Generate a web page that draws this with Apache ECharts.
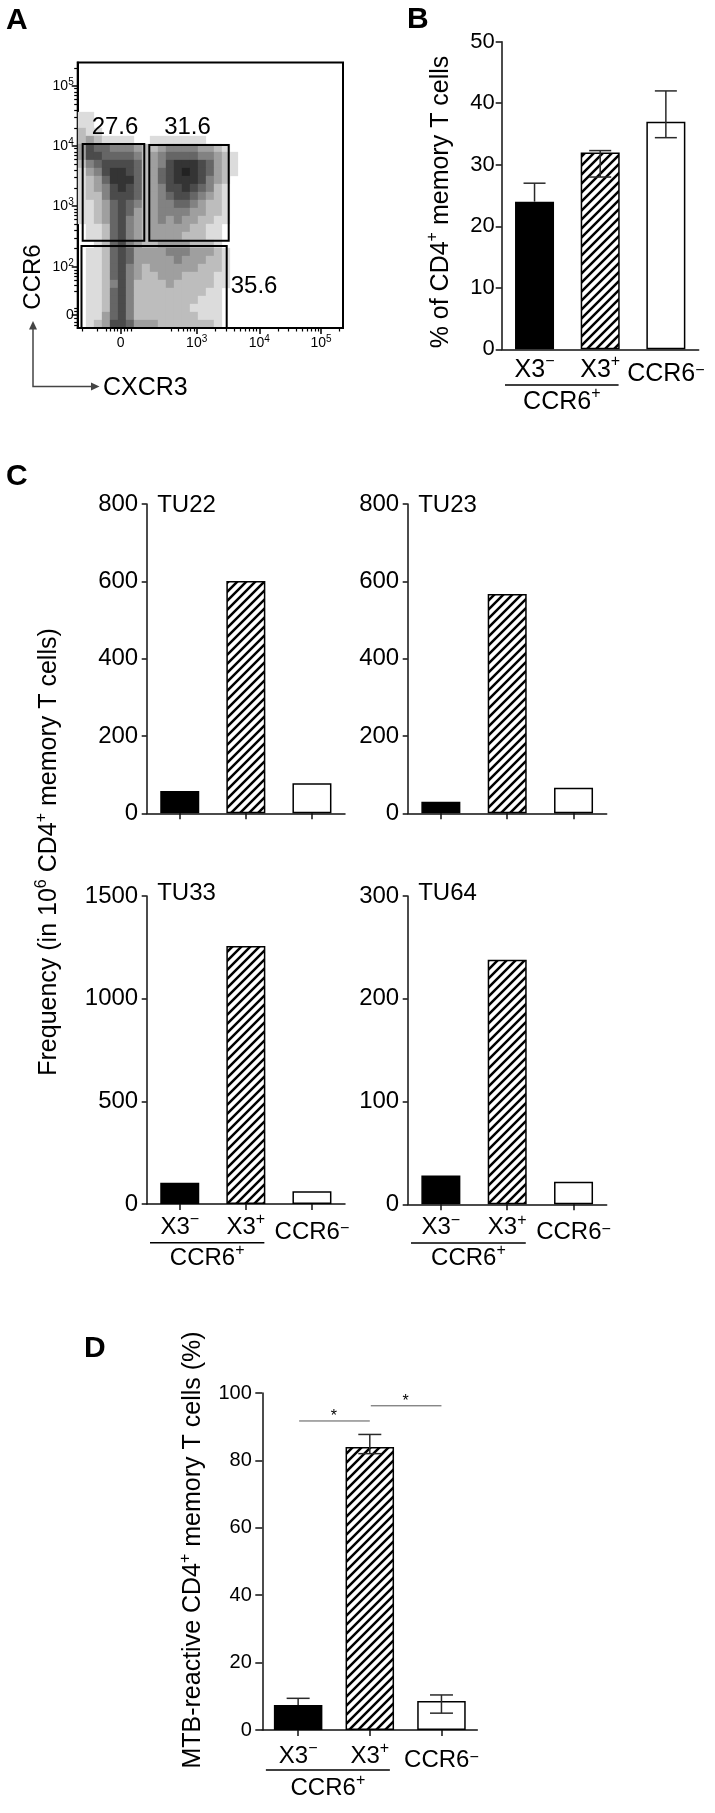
<!DOCTYPE html>
<html><head><meta charset="utf-8">
<script src="https://cdn.jsdelivr.net/npm/echarts@6/dist/echarts.min.js"></script>
<style>html,body{margin:0;padding:0;background:#fff;overflow:hidden}#c{width:715px;height:1813px}</style>
</head><body><div id="c"></div>
<script>
// ================= DATA =================
const categories = ['X3−', 'X3+', 'CCR6−'];
const categoryBase = ['X3', 'X3', 'CCR6'];
const categorySup = ['−', '+', '−'];
const groupBase = 'CCR6', groupSup = '+';

// Panel A – flow cytometry (axes in display channels 0–1000)
const flowXTickValues = [162, 448.5, 684.5, 917];
const flowXTickLabels = [['0', ''], ['10', '3'], ['10', '4'], ['10', '5']];
const flowYTickValues = [49, 229.8, 459.5, 685.5, 911.5];
const flowYTickLabels = [['0', ''], ['10', '2'], ['10', '3'], ['10', '4'], ['10', '5']];
// event density (0–9), rows top→bottom, columns left→right
const flowDensityRows = [
  "110000000000000000000",
  "110000000000000000000",
  "211000000000000000000",
  "232111100111111100000",
  "365544432234444332100",
  "366555542345555443210",
  "245666652346777653210",
  "134677652356787653210",
  "123577752356777643200",
  "123467652346676542100",
  "122466652345665432100",
  "112356542344554322100",
  "112356532344443322100",
  "112356432343433221100",
  "011256432333332211000",
  "011256432333322211000",
  "001256432233332221000",
  "011256533334443332100",
  "011256533333433322100",
  "011256432333333222100",
  "011256432233322221100",
  "011246422223222221100",
  "011256422222222211000",
  "011256422222222111000",
  "011256422222221111000",
  "011356422222222111000",
  "012366533322222221000"
];
const gateRects = [[18.8, 328.8, 251, 693], [269.9, 328.8, 569.2, 689.3], [14.3, 0, 561.6, 308.9]];
const gatePercents = ['27.6', '31.6', '35.6'];

// Panel B
const bMeans = [24, 32, 37];
const bErrLow = [24, 28, 34.4];
const bErrHigh = [27, 32.3, 42];

// Panel C
const cDonors = ['TU22', 'TU23', 'TU33', 'TU64'];
const tu22 = [58, 601, 78];
const tu23 = [30, 567, 66];
const tu33 = [104, 1257, 62];
const tu64 = [28, 238, 22];
const cAxisMax = [800, 800, 1500, 300];
const cAxisStep = [200, 200, 500, 100];

// Panel D
const dMeans = [7.4, 84, 8.6];
const dErrLow = [7.4, 82, 5];
const dErrHigh = [9.4, 87.7, 10.4];
const sigPairs = [[0, 1], [1, 2]];
const sigLevels = [91.7, 96.2];
const sigMarks = ['*', '*'];

// ================= LAYOUT / STYLE =================
const FONT = 'Liberation Sans, Arial, Helvetica, sans-serif';
const AX = '#111';
const G = {
  A: {left: 77.7, top: 62.5, width: 265.3, height: 265.5},
  B: {left: 501.7, top: 41.7, width: 197, height: 307.6},
  C: [{left: 146.7, top: 504, width: 198.3, height: 309.3},
      {left: 407.7, top: 504, width: 199, height: 309.3},
      {left: 146.7, top: 896, width: 198.3, height: 308},
      {left: 407.7, top: 896, width: 199, height: 308.3}],
  D: {left: 262.3, top: 1393, width: 215, height: 337}
};
const gateLabelAt = [[140.6, 755], [413.9, 755], [576.7, 155.6]];
const gateLabelAlign = ['center', 'center', 'left'];
const DENS = {x0: 16.2, y0: 798.5, dx: 30.15, dy: 30.13};
const densityColors = ['#ffffff', '#dcdcdc', '#bdbdbd', '#9f9f9f', '#828282', '#666666', '#4b4b4b', '#343434', '#222222', '#121212'];

function gridOf(r, extra) {
  return Object.assign({left: r.left, top: r.top, width: r.width, height: r.height,
    containLabel: false, outerBoundsMode: 'none'}, extra || {});
}

function makeHatch() {
  const s = 9, c = document.createElement('canvas');
  c.width = s; c.height = s;
  const g = c.getContext('2d');
  g.fillStyle = '#fff'; g.fillRect(0, 0, s, s);
  g.strokeStyle = '#000'; g.lineWidth = 2.5;
  g.beginPath();
  g.moveTo(-1, s + 1); g.lineTo(s + 1, -1);
  g.moveTo(-2, 2); g.lineTo(2, -2);
  g.moveTo(s - 2, s + 2); g.lineTo(s + 2, s - 2);
  g.stroke();
  return c;
}
const hatch = {image: makeHatch(), repeat: 'repeat'};
function barStyle(i) {
  const base = {borderColor: '#000', borderWidth: 1.5};
  if (i === 0) return Object.assign({color: '#000'}, base);
  if (i === 1) return Object.assign({color: hatch}, base);
  return Object.assign({color: '#fff'}, base);
}

function catRich(fs, sfs) {
  const lh = Math.round(fs * 1.3);
  return {
    b: {fontSize: fs, fontFamily: FONT, color: '#000', lineHeight: lh},
    s: {fontSize: sfs, fontFamily: FONT, color: '#000', lineHeight: sfs, verticalAlign: 'top'},
    bl: {fontSize: fs, fontFamily: FONT, color: '#000', lineHeight: lh, padding: [9, 0, 0, 0]},
    sl: {fontSize: sfs, fontFamily: FONT, color: '#000', lineHeight: sfs, verticalAlign: 'top', padding: [9, 0, 0, 0]}
  };
}
function catFormatter(v, i) {
  return i === 2 ? '{bl|' + categoryBase[i] + '}{sl|' + categorySup[i] + '}'
                 : '{b|' + categoryBase[i] + '}{s|' + categorySup[i] + '}';
}
function catXAxis(grid, o) {
  return {type: 'category', gridIndex: grid, data: categories, boundaryGap: true,
    axisLine: {show: true, onZero: false, lineStyle: {color: AX, width: 1.5}},
    axisTick: {show: o.ticks, alignWithLabel: true, length: 6, lineStyle: {color: AX, width: 1.5}},
    axisLabel: {show: o.labels, interval: 0, margin: o.margin, formatter: catFormatter, rich: catRich(o.fs, o.sfs)},
    splitLine: {show: false}, splitArea: {show: false}};
}
function valYAxis(grid, max, step, o) {
  return {type: 'value', gridIndex: grid, min: 0, max: max, interval: step,
    axisLine: {show: true, lineStyle: {color: AX, width: 1.5}},
    axisTick: {show: true, length: o.tick, lineStyle: {color: AX, width: 1.5}},
    axisLabel: {show: true, margin: o.margin, fontSize: o.fs, fontFamily: FONT, color: '#000',
      formatter: v => String(v)},
    splitLine: {show: false}};
}
function flowFormatter(vals, labs) {
  return function (v) {
    const k = vals.findIndex(t => Math.abs(t - v) < 0.5);
    if (k < 0) return '';
    return labs[k][1] ? '{n|' + labs[k][0] + '}{s|' + labs[k][1] + '}' : '{n|' + labs[k][0] + '}';
  };
}
const flowRich = {
  n: {fontSize: 14, fontFamily: FONT, color: '#000', lineHeight: 18},
  s: {fontSize: 10, fontFamily: FONT, color: '#000', lineHeight: 10, verticalAlign: 'top'}
};
function logMinor(anchors, firstKs) {
  const out = [];
  for (let n = 0; n < anchors.length - 1; n++) {
    const ks = n === 0 ? firstKs : [2, 3, 4, 5, 6, 7, 8, 9];
    for (const k of ks) out.push(anchors[n] + Math.log10(k) * (anchors[n + 1] - anchors[n]));
  }
  return out.filter(v => v > 0 && v < 1000);
}
const xMinor = logMinor([212, 448.5, 684.5, 917, 1149], [4, 5, 6, 7, 8, 9])
  .concat([-143, -90, -53, -40, -25, -12, 12, 25, 38].map(d => flowXTickValues[0] + d));
const yMinor = logMinor([0, 229.8, 459.5, 685.5, 911.5, 1137.5], [4, 5, 6, 7, 8, 9])
  .concat([-40, -27, -13, 13, 27].map(d => flowYTickValues[0] + d));

// density data
const densityData = [];
flowDensityRows.forEach((row, j) => {
  for (let i = 0; i < row.length; i++) {
    const d = +row[i];
    if (d > 0) densityData.push([DENS.x0 + i * DENS.dx, DENS.y0 - j * DENS.dy, d]);
  }
});

function errSeries(ax, means, low, high, cap) {
  return {type: 'custom', xAxisIndex: ax, yAxisIndex: ax, z: 5, silent: true,
    data: means.map((m, i) => [i, low[i], high[i], m]),
    renderItem: function (params, api) {
      const i = api.value(0);
      const pl = api.coord([i, api.value(1)]), ph = api.coord([i, api.value(2)]);
      const st = {stroke: '#2a2a2a', lineWidth: 1.5};
      const hw = cap / 2;
      const ch = [
        {type: 'line', shape: {x1: ph[0], y1: ph[1], x2: pl[0], y2: pl[1]}, style: st},
        {type: 'line', shape: {x1: ph[0] - hw, y1: ph[1], x2: ph[0] + hw, y2: ph[1]}, style: st}
      ];
      if (api.value(1) < api.value(3) - 1e-6)
        ch.push({type: 'line', shape: {x1: pl[0] - hw, y1: pl[1], x2: pl[0] + hw, y2: pl[1]}, style: st});
      return {type: 'group', children: ch};
    }};
}
function barSeries(ax, vals, bw) {
  return {type: 'bar', xAxisIndex: ax, yAxisIndex: ax, barWidth: bw, silent: true,
    data: vals.map((v, i) => ({value: v, itemStyle: barStyle(i)}))};
}

// ================= OPTION =================
const grids = [gridOf(G.A, {show: true, borderColor: '#000', borderWidth: 2}), gridOf(G.A), gridOf(G.B)]
  .concat(G.C.map(r => gridOf(r))).concat([gridOf(G.D)]);

const xAxes = [
  {type: 'value', gridIndex: 0, min: 0, max: 1000,
    axisLine: {show: true, onZero: false, lineStyle: {color: '#000', width: 2}},
    axisTick: {show: true, customValues: flowXTickValues, length: 6, lineStyle: {color: '#000', width: 1.5}},
    axisLabel: {show: true, customValues: flowXTickValues, margin: 6, formatter: flowFormatter(flowXTickValues, flowXTickLabels), rich: flowRich},
    splitLine: {show: false}},
  {type: 'value', gridIndex: 1, min: 0, max: 1000,
    axisLine: {show: false}, axisLabel: {show: false}, splitLine: {show: false},
    axisTick: {show: true, customValues: xMinor, length: 3.5, lineStyle: {color: '#000', width: 1.2}}},
  catXAxis(2, {ticks: false, labels: true, margin: 4, fs: 25, sfs: 16}),
  catXAxis(3, {ticks: true, labels: false, margin: 8, fs: 24, sfs: 16}),
  catXAxis(4, {ticks: true, labels: false, margin: 8, fs: 24, sfs: 16}),
  catXAxis(5, {ticks: true, labels: true, margin: 8, fs: 24, sfs: 16}),
  catXAxis(6, {ticks: true, labels: true, margin: 8, fs: 24, sfs: 16}),
  catXAxis(7, {ticks: true, labels: true, margin: 10.5, fs: 24, sfs: 16})
];
const yAxes = [
  {type: 'value', gridIndex: 0, min: 0, max: 1000,
    axisLine: {show: true, onZero: false, lineStyle: {color: '#000', width: 2}},
    axisTick: {show: true, customValues: flowYTickValues, length: 6, lineStyle: {color: '#000', width: 1.5}},
    axisLabel: {show: true, customValues: flowYTickValues, margin: 4, formatter: flowFormatter(flowYTickValues, flowYTickLabels), rich: flowRich},
    splitLine: {show: false}},
  {type: 'value', gridIndex: 1, min: 0, max: 1000,
    axisLine: {show: false}, axisLabel: {show: false}, splitLine: {show: false},
    axisTick: {show: true, customValues: yMinor, length: 3.5, lineStyle: {color: '#000', width: 1.2}}},
  valYAxis(2, 50, 10, {tick: 6, margin: 7, fs: 22}),
  valYAxis(3, cAxisMax[0], cAxisStep[0], {tick: 5, margin: 8.5, fs: 24}),
  valYAxis(4, cAxisMax[1], cAxisStep[1], {tick: 5, margin: 8.5, fs: 24}),
  valYAxis(5, cAxisMax[2], cAxisStep[2], {tick: 5, margin: 8.5, fs: 24}),
  valYAxis(6, cAxisMax[3], cAxisStep[3], {tick: 5, margin: 8.5, fs: 24}),
  valYAxis(7, 100, 20, {tick: 7, margin: 10.5, fs: 20})
];

const series = [
  {type: 'scatter', xAxisIndex: 0, yAxisIndex: 0, symbol: 'rect', symbolSize: [8.3, 8.3], z: 1, silent: true,
    itemStyle: {opacity: 1}, data: densityData},
  {type: 'custom', xAxisIndex: 0, yAxisIndex: 0, z: 3, silent: true, data: gateRects,
    renderItem: function (params, api) {
      const a = api.coord([api.value(0), api.value(3)]), b = api.coord([api.value(2), api.value(1)]);
      return {type: 'rect', shape: {x: a[0], y: a[1], width: b[0] - a[0], height: b[1] - a[1]},
        style: {fill: 'none', stroke: '#000', lineWidth: 2}};
    }},
  {type: 'custom', xAxisIndex: 0, yAxisIndex: 0, z: 4, silent: true,
    data: gateLabelAt.map((p, i) => [p[0], p[1], i]),
    renderItem: function (params, api) {
      const p = api.coord([api.value(0), api.value(1)]), i = api.value(2);
      return {type: 'text', x: p[0], y: p[1],
        style: {text: gatePercents[i], font: '24px ' + FONT, fill: '#000', align: gateLabelAlign[i], verticalAlign: 'middle'}};
    }},
  barSeries(2, bMeans, 39),
  errSeries(2, bMeans, bErrLow, bErrHigh, 22),
  barSeries(3, tu22, 39),
  barSeries(4, tu23, 39),
  barSeries(5, tu33, 39),
  barSeries(6, tu64, 39),
  barSeries(7, dMeans, 48.5),
  errSeries(7, dMeans, dErrLow, dErrHigh, 23),
  {type: 'custom', xAxisIndex: 7, yAxisIndex: 7, z: 6, silent: true,
    data: sigPairs.map((p, i) => [p[0], p[1], sigLevels[i], i]),
    renderItem: function (params, api) {
      const a = api.coord([api.value(0), api.value(2)]), b = api.coord([api.value(1), api.value(2)]);
      const i = api.value(3);
      return {type: 'group', children: [
        {type: 'line', shape: {x1: a[0] + 1, y1: a[1], x2: b[0], y2: b[1]}, style: {stroke: '#555', lineWidth: 1}},
        {type: 'text', x: (a[0] + b[0]) / 2, y: a[1] - 4,
          style: {text: sigMarks[i], font: '16px ' + FONT, fill: '#000', align: 'center', verticalAlign: 'middle'}}
      ]};
    }}
];
const SER = {B: 3, C3: 7, C4: 8, D: 9};

const supRich = {s: {fontSize: 16, fontFamily: FONT, fill: '#000', lineHeight: 16, verticalAlign: 'top'}};
function rotText(x, y, text) {
  return {type: 'text', x: x, y: y, rotation: Math.PI / 2,
    style: {text: text, font: '25px ' + FONT, lineHeight: 32, fill: '#000', align: 'center', verticalAlign: 'middle', rich: supRich}};
}
function plainText(x, y, text, font, align) {
  return {type: 'text', x: x, y: y, style: {text: text, font: font, fill: '#000', align: align || 'left', verticalAlign: 'middle'}};
}

const baseGraphics = [
  plainText(6, 21, 'A', 'bold 30px ' + FONT),
  plainText(407, 19.5, 'B', 'bold 30px ' + FONT),
  plainText(6, 476.5, 'C', 'bold 30px ' + FONT),
  plainText(84, 1348.5, 'D', 'bold 30px ' + FONT),
  {type: 'text', x: 33, y: 277, rotation: Math.PI / 2,
    style: {text: 'CCR6', font: '24px ' + FONT, fill: '#000', align: 'center', verticalAlign: 'middle'}},
  plainText(103, 388, 'CXCR3', '25px ' + FONT),
  {type: 'polyline', shape: {points: [[33, 326], [33, 386.5], [95, 386.5]]}, style: {stroke: '#444', lineWidth: 1.5, fill: null}},
  {type: 'polygon', shape: {points: [[33, 321], [29, 329.5], [37, 329.5]]}, style: {fill: '#444'}},
  {type: 'polygon', shape: {points: [[99.5, 386.5], [91, 382.5], [91, 390.5]]}, style: {fill: '#444'}},
  rotText(441, 202, '% of CD4{s|+} memory T cells'),
  rotText(49.5, 852, 'Frequency (in 10{s|6} CD4{s|+} memory T cells)'),
  rotText(193.3, 1550, 'MTB-reactive CD4{s|+} memory T cells (%)')
].concat(G.C.map((r, k) => plainText(r.left + 10.5, r.top + (k < 2 ? 1 : -2.7), cDonors[k], '24px ' + FONT)));

const chart = echarts.init(document.getElementById('c'), null, {renderer: 'canvas', width: 715, height: 1813});
chart.setOption({
  animation: false,
  backgroundColor: '#fff',
  grid: grids, xAxis: xAxes, yAxis: yAxes, series: series,
  visualMap: [{type: 'continuous', show: false, seriesIndex: 0, dimension: 2, min: 0, max: 9,
    inRange: {color: densityColors}}],
  graphic: {elements: baseGraphics}
});

// group annotation (underline + CCR6+) placed from the axis scale
function groupAnnot(si, lineOff, textOff, fs) {
  const p0 = chart.convertToPixel({seriesIndex: si}, [0, 0]);
  const p1 = chart.convertToPixel({seriesIndex: si}, [1, 0]);
  const band = p1[0] - p0[0];
  const x1 = p0[0] - 0.45 * band, x2 = p1[0] + 0.28 * band;
  return [
    {type: 'line', shape: {x1: x1, y1: p0[1] + lineOff, x2: x2, y2: p0[1] + lineOff}, style: {stroke: '#000', lineWidth: 1.5}},
    {type: 'text', x: (x1 + x2) / 2, y: p0[1] + textOff,
      style: {text: groupBase + '{s|' + groupSup + '}', font: fs + 'px ' + FONT, lineHeight: 32, fill: '#000',
        align: 'center', verticalAlign: 'middle', rich: supRich}}
  ];
}
const extra = [].concat(
  groupAnnot(SER.B, 35.7, 52.7, 25),
  groupAnnot(SER.C3, 38.7, 54.3, 24),
  groupAnnot(SER.C4, 38.7, 54.3, 24),
  groupAnnot(SER.D, 40, 58.3, 24)
);
chart.setOption({graphic: {elements: baseGraphics.concat(extra)}});
</script>
</body></html>
